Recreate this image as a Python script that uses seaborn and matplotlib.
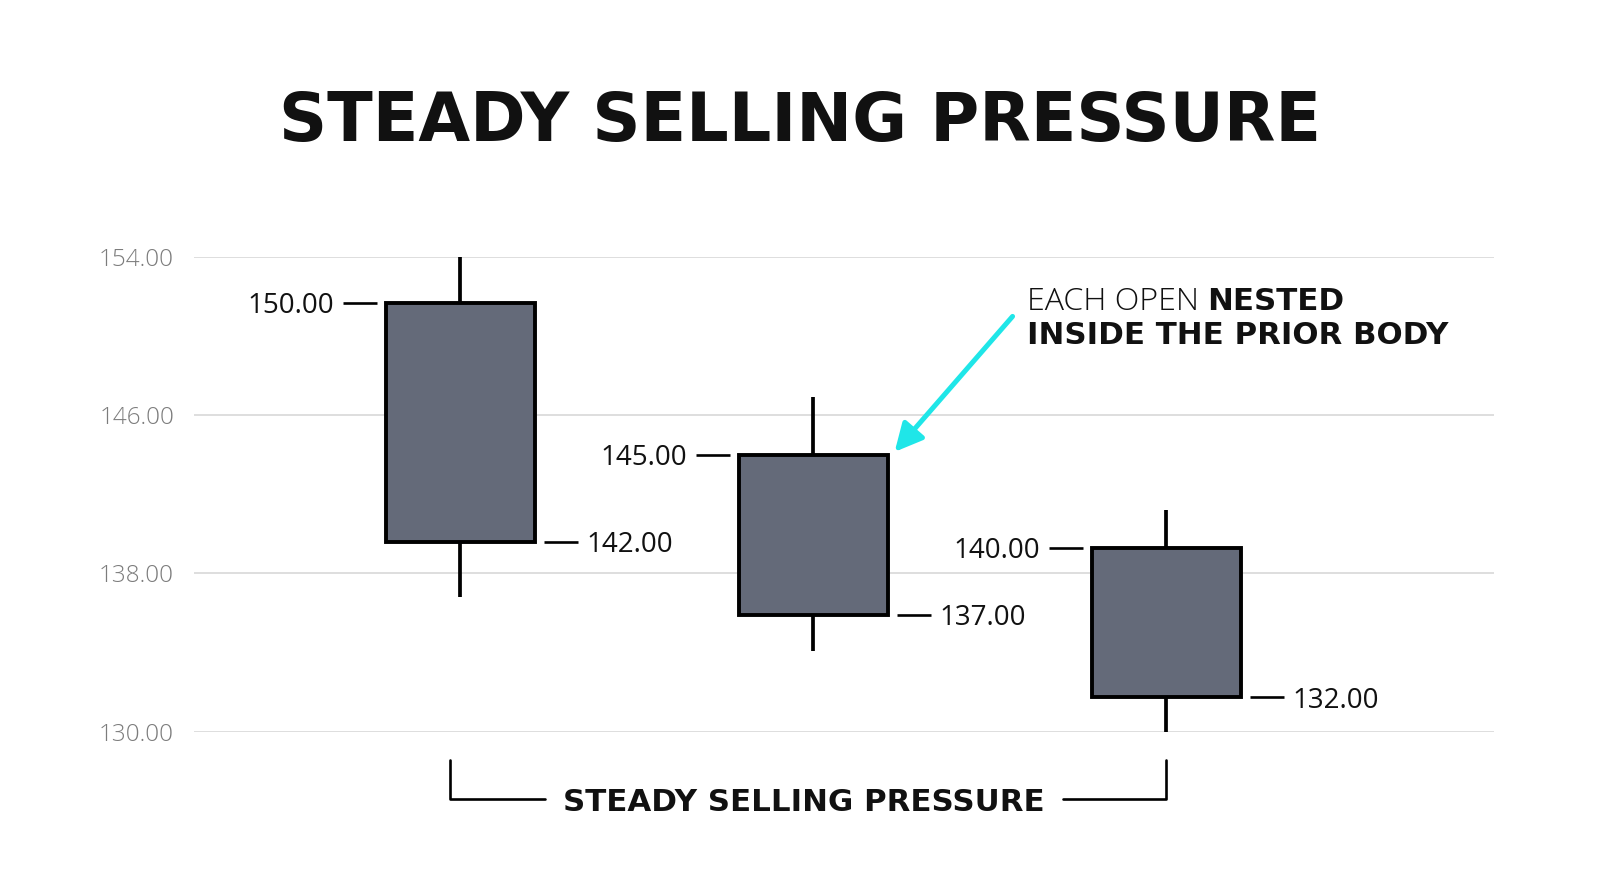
import numpy as np
import pandas as pd
import matplotlib
matplotlib.use("Agg")
import matplotlib.pyplot as plt
import seaborn as sns

# ---------------- data ----------------
candles = ["C1", "C2", "C3"]
opens = [151.7, 144.0, 139.3]
closes = [139.6, 135.9, 131.75]
highs = [154.0, 146.9, 141.2]
lows = [136.8, 134.1, 130.0]
open_labels = ["150.00", "145.00", "140.00"]
close_labels = ["142.00", "137.00", "132.00"]
y_ticks = [130, 138, 146, 154]
y_tick_labels = ["130.00", "138.00", "146.00", "154.00"]
title_text = "STEADY SELLING PRESSURE"
bracket_text = "STEADY SELLING PRESSURE"
note_line1_light = "EACH OPEN "
note_line1_bold = "NESTED"
note_line2 = "INSIDE THE PRIOR BODY"

BODY = "#646a79"
CYAN = "#1fe6e8"
FONT = "Open Sans"
BOLD = "DejaVu Sans"

sns.set_theme(style="white")
plt.rcParams["font.family"] = [FONT, "DejaVu Sans"]

fig = plt.figure(figsize=(16, 8.93), dpi=100)
fig.patch.set_facecolor("white")
ax = fig.add_axes([0.121, 0.1807, 0.813, 0.5314])
ax.set_facecolor("white")

xs = np.arange(len(candles))
width = 0.42

# wicks via seaborn
wick_df = pd.DataFrame({
    "x": np.repeat(xs, 2),
    "price": np.ravel(np.column_stack([lows, highs])),
    "candle": np.repeat(candles, 2),
})
sns.lineplot(data=wick_df, x="x", y="price", units="candle", estimator=None,
             color="black", lw=2.7, ax=ax, legend=False, zorder=2,
             solid_capstyle="butt", clip_on=False)

# bodies
ax.bar(xs, np.array(opens) - np.array(closes), bottom=closes, width=width,
       color=BODY, edgecolor="black", linewidth=2.8, zorder=3, clip_on=False)

ax.set_xlim(-0.756, 2.929)
ax.set_ylim(130, 154)
ax.set_yticks(y_ticks)
ax.set_yticklabels(y_tick_labels)
ax.set_xticks([])
ax.set_xlabel("")
ax.set_ylabel("")
for s in ax.spines.values():
    s.set_visible(False)
ax.yaxis.grid(True, color="#dedede", lw=1.4, zorder=0)
ax.tick_params(axis="y", length=0, pad=14, labelsize=17.5, labelcolor="#7c7c7c")
for t in ax.get_yticklabels():
    t.set_fontweight("light")

# open/close labels with dashes
g, dl = 0.026, 0.096
for x, o, c, ol, cl in zip(xs, opens, closes, open_labels, close_labels):
    left = x - width / 2
    right = x + width / 2
    ax.plot([left - g - dl, left - g], [o, o], color="black", lw=1.9,
            solid_capstyle="butt", clip_on=False, zorder=4)
    ax.text(left - 2 * g - dl, o, ol, ha="right", va="center_baseline",
            fontsize=20, color="#111111")
    ax.plot([right + g, right + g + dl], [c, c], color="black", lw=1.9,
            solid_capstyle="butt", clip_on=False, zorder=4)
    ax.text(right + 2 * g + dl, c, cl, ha="left", va="center_baseline",
            fontsize=20, color="#111111")

# arrow annotation
ax.annotate("", xy=(xs[1] + width / 2 + 0.02, opens[1] + 0.15),
            xytext=(1.564, 151.0),
            arrowprops=dict(arrowstyle="-|>,head_length=1.4,head_width=0.7",
                            color=CYAN, lw=3.6, shrinkA=0, shrinkB=0))


def fit(t, target_px):
    fig.canvas.draw()
    w = t.get_window_extent().width
    t.set_fontsize(t.get_fontsize() * target_px / w)


t1 = ax.text(1.604, 151.93, note_line1_light, ha="left", va="center_baseline",
             fontsize=20, fontweight="light", color="#111111")
fit(t1, 180)
t3 = ax.text(1.604, 150.18, note_line2, ha="left", va="center_baseline",
             fontsize=20, fontweight="bold", family=BOLD, color="#111111")
fit(t3, 420)
fig.canvas.draw()
bb = t1.get_window_extent()
inv = ax.transData.inverted()
x_end = inv.transform((bb.x1, bb.y0))[0]
ax.text(x_end, 151.93, note_line1_bold, ha="left", va="center_baseline",
        fontsize=t3.get_fontsize(), fontweight="bold", family=BOLD,
        color="#111111")

# bracket
yb_top, yb = 128.56, 126.59
ax.plot([-0.031, -0.031, 0.24], [yb_top, yb, yb], color="black", lw=1.9,
        clip_on=False)
ax.plot([1.708, xs[2], xs[2]], [yb, yb, yb_top], color="black", lw=1.9,
        clip_on=False)
tb = ax.text(0.972, yb, bracket_text, ha="center", va="center_baseline",
             fontsize=22, fontweight="bold", family=BOLD, color="#111111")
fit(tb, 480)

tt = fig.text(0.5, 0.8423, title_text, ha="center", va="baseline", fontsize=50,
              fontweight="bold", family=BOLD, color="#111111")
fit(tt, 1045)

fig.savefig("out.png", dpi=100, facecolor="white")
